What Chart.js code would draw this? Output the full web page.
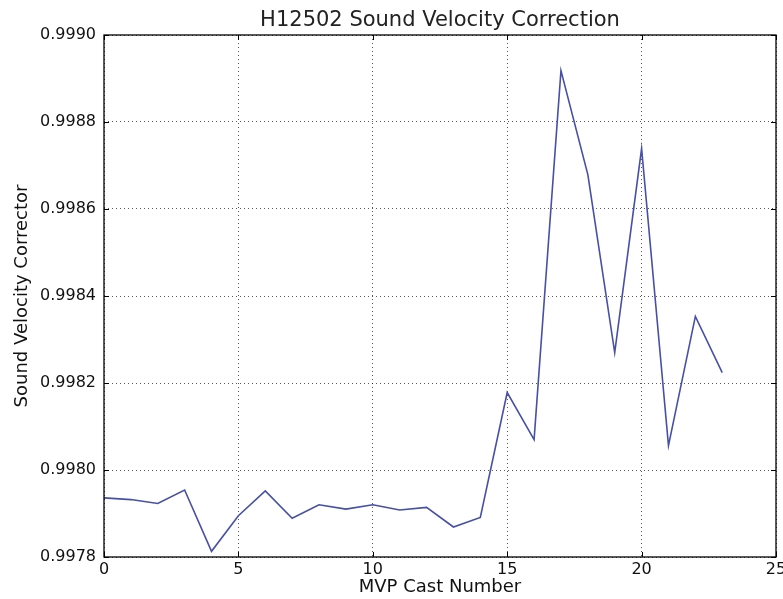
<!DOCTYPE html>
<html>
<head>
<meta charset="utf-8">
<script src="https://cdn.jsdelivr.net/npm/chart.js@4.4.1/dist/chart.umd.min.js"></script>
<style>
  html, body { margin: 0; padding: 0; background: #ffffff; }
  #wrap { width: 783px; height: 599px; }
</style>
</head>
<body>
<div id="wrap"><canvas id="chart" width="783" height="599"></canvas></div>
<script>
// MVP cast numbers and the sound velocity corrector computed for each cast
const castNumbers = [0, 1, 2, 3, 4, 5, 6, 7, 8, 9, 10, 11, 12, 13, 14, 15, 16, 17, 18, 19, 20, 21, 22, 23];
const correctors = [
  0.997936, 0.997932, 0.997923, 0.997954, 0.997813, 0.997895,
  0.997952, 0.997889, 0.997920, 0.997910, 0.997920, 0.997908,
  0.997914, 0.997869, 0.997891, 0.998178, 0.998070, 0.998918,
  0.998679, 0.998270, 0.998739, 0.998056, 0.998353, 0.998224
];
const xTicks = [0, 5, 10, 15, 20, 25];
const yTicks = [0.9978, 0.9980, 0.9982, 0.9984, 0.9986, 0.9988, 0.9990];

const FONT = "'DejaVu Sans', sans-serif";

// Frame around the plot area plus inward-pointing tick marks on all four sides
const framePlugin = {
  id: 'frame',
  afterDatasetsDraw(chart) {
    const { ctx, chartArea: a, scales } = chart;
    ctx.save();
    ctx.strokeStyle = '#000';
    ctx.lineWidth = 1;
    const len = 5;
    ctx.beginPath();
    xTicks.forEach(v => {
      const px = Math.round(scales.x.getPixelForValue(v)) + 0.5;
      ctx.moveTo(px, a.bottom); ctx.lineTo(px, a.bottom - len);
      ctx.moveTo(px, a.top); ctx.lineTo(px, a.top + len);
    });
    yTicks.forEach(v => {
      const py = Math.round(scales.y.getPixelForValue(v)) + 0.5;
      ctx.moveTo(a.left, py); ctx.lineTo(a.left + len, py);
      ctx.moveTo(a.right, py); ctx.lineTo(a.right - len, py);
    });
    ctx.stroke();
    ctx.lineWidth = 1.3;
    ctx.strokeRect(a.left, a.top, a.right - a.left, a.bottom - a.top);
    ctx.restore();
  }
};

new Chart(document.getElementById('chart'), {
  type: 'line',
  data: {
    datasets: [{
      data: castNumbers.map((c, i) => ({ x: c, y: correctors[i] })),
      borderColor: '#4650a6',
      borderWidth: 1.6,
      pointRadius: 0,
      tension: 0,
      fill: false
    }]
  },
  options: {
    responsive: false,
    animation: false,
    devicePixelRatio: 1,
    layout: { padding: { top: 0, right: 7, bottom: 0, left: 0 } },
    plugins: {
      legend: { display: false },
      tooltip: { enabled: false },
      title: {
        display: true,
        fullSize: false,
        text: 'H12502 Sound Velocity Correction',
        color: '#222',
        font: { family: FONT, size: 21, weight: 'normal' },
        padding: { top: 8.3, bottom: 1.5 }
      }
    },
    scales: {
      x: {
        type: 'linear',
        min: 0,
        max: 25,
        afterBuildTicks(scale) { scale.ticks = xTicks.map(v => ({ value: v })); },
        afterFit(scale) {
          scale.height = 42;
          scale.paddingLeft = 0;
          scale.paddingRight = 0;
        },
        ticks: {
          color: '#111',
          font: { family: FONT, size: 16 },
          padding: 3,
          maxRotation: 0
        },
        grid: {
          color: 'rgba(0,0,0,0.65)',
          lineWidth: 1,
          drawTicks: false
        },
        border: { display: false, dash: [1, 3] },
        title: {
          display: true,
          text: 'MVP Cast Number',
          color: '#111',
          font: { family: FONT, size: 18 },
          padding: { top: 0, bottom: 1 }
        }
      },
      y: {
        type: 'linear',
        min: 0.9978,
        max: 0.9990,
        afterBuildTicks(scale) { scale.ticks = yTicks.map(v => ({ value: v })); },
        afterFit(scale) {
          scale.width = 104;
          scale.paddingTop = 0;
          scale.paddingBottom = 0;
        },
        ticks: {
          color: '#111',
          font: { family: FONT, size: 16 },
          padding: 8,
          callback: v => Number(v).toFixed(4)
        },
        grid: {
          color: 'rgba(0,0,0,0.65)',
          lineWidth: 1,
          drawTicks: false
        },
        border: { display: false, dash: [1, 3] },
        title: {
          display: true,
          text: 'Sound Velocity Corrector',
          color: '#111',
          font: { family: FONT, size: 18 },
          padding: { top: 12, bottom: 0 }
        }
      }
    }
  },
  plugins: [framePlugin]
});
</script>
</body>
</html>
